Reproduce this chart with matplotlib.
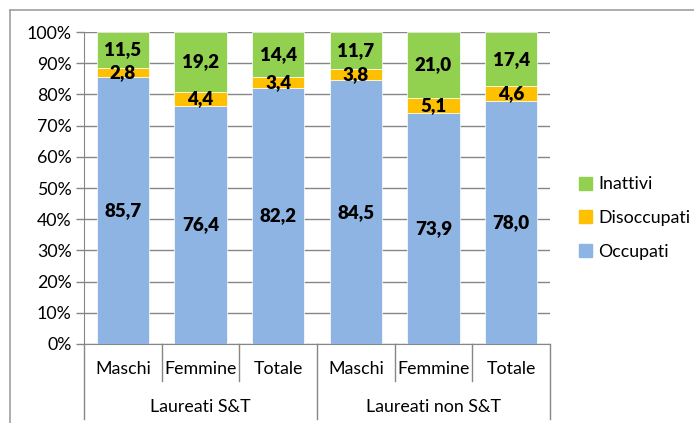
import matplotlib.pyplot as plt
from matplotlib.lines import Line2D
from matplotlib.patches import Patch

plt.rcParams['font.family'] = ['Lato', 'DejaVu Sans']

categories = ["Maschi", "Femmine", "Totale", "Maschi", "Femmine", "Totale"]
groups = ["Laureati S&T", "Laureati non S&T"]
occupati = [85.7, 76.4, 82.2, 84.5, 73.9, 78.0]
disoccupati = [2.8, 4.4, 3.4, 3.8, 5.1, 4.6]
inattivi = [11.5, 19.2, 14.4, 11.7, 21.0, 17.4]
yticks = [0, 10, 20, 30, 40, 50, 60, 70, 80, 90, 100]

c_occ = "#8EB4E3"
c_dis = "#FFC000"
c_ina = "#92D050"
grid_c = "#868686"
fs = 12.8

fig = plt.figure(figsize=(6.94, 4.23), dpi=100)
ax = fig.add_axes([84 / 694, 1 - 344 / 423, (550 - 84) / 694, 312 / 423])

x = list(range(len(categories)))
w = 0.67
bottoms2 = [a + b for a, b in zip(occupati, disoccupati)]
ax.bar(x, occupati, w, color=c_occ, edgecolor="white", linewidth=0.5, zorder=3)
ax.bar(x, disoccupati, w, bottom=occupati, color=c_dis, edgecolor="white", linewidth=0.5, zorder=3)
ax.bar(x, inattivi, w, bottom=bottoms2, color=c_ina, edgecolor="white", linewidth=0.5, zorder=3)

def fmt(v):
    return f"{v:.1f}".replace(".", ",")

lab_kw = dict(ha="center", va="center", fontsize=13.5, fontweight="heavy", color="black", zorder=5)
for i in x:
    ax.text(i, occupati[i] / 2, fmt(occupati[i]), **lab_kw)
    ax.text(i, occupati[i] + disoccupati[i] / 2, fmt(disoccupati[i]), **lab_kw)
    ax.text(i, bottoms2[i] + inattivi[i] / 2, fmt(inattivi[i]), **lab_kw)

ax.set_xlim(-0.5, len(categories) - 0.5)
ax.set_ylim(0, 100)
ax.set_yticks(yticks)
ax.set_yticklabels([f"{t}%" for t in yticks], fontsize=fs)
ax.yaxis.grid(True, color=grid_c, linewidth=1, zorder=0)
ax.tick_params(axis="y", length=6, color=grid_c, width=1, pad=3)
ax.set_xticks([])
for s in ["top", "right"]:
    ax.spines[s].set_visible(False)
ax.spines["left"].set_color(grid_c)
ax.spines["bottom"].set_color(grid_c)

# two-level category axis
trans = ax.get_xaxis_transform()
for b in [-0.5, 0.5, 1.5, 2.5, 3.5, 4.5, 5.5]:
    low = -0.240 if b in (-0.5, 2.5, 5.5) else -0.1186
    ax.add_line(Line2D([b, b], [0, low], transform=trans, color=grid_c, linewidth=1, clip_on=False))
for i, c in enumerate(categories):
    ax.text(i, -0.080, c, transform=trans, ha="center", va="center", fontsize=fs)
for g, gi in enumerate(groups):
    ax.text(1 + 3 * g, -0.202, gi, transform=trans, ha="center", va="center", fontsize=fs)

handles = [Patch(color=c_ina, label="Inattivi"),
           Patch(color=c_dis, label="Disoccupati"),
           Patch(color=c_occ, label="Occupati")]
fig.legend(handles=handles, loc="center left", bbox_to_anchor=(563 / 694, 1 - 218 / 423),
           frameon=False, fontsize=fs, handlelength=0.75, handleheight=0.75,
           handletextpad=0.35, labelspacing=1.0)

# outer frame (top and left edges)
fig.add_artist(Line2D([10 / 694, 1.0], [1 - 10 / 423, 1 - 10 / 423], transform=fig.transFigure,
                      color="#A0A0A0", linewidth=1.2))
fig.add_artist(Line2D([9.5 / 694, 9.5 / 694], [0, 1 - 10 / 423], transform=fig.transFigure,
                      color="#A0A0A0", linewidth=1.2))

fig.savefig("out.png", dpi=100)
